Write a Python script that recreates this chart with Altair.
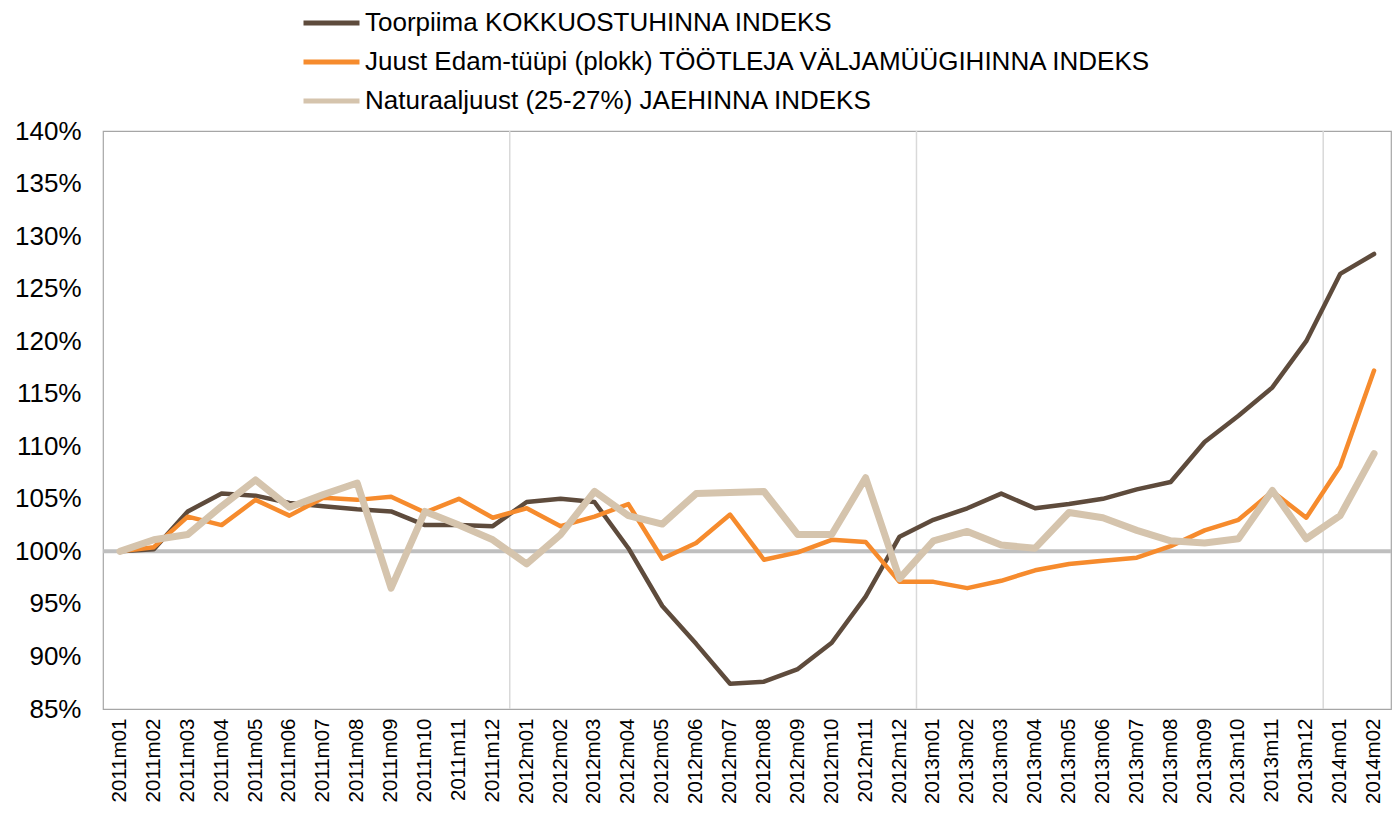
import altair as alt
import pandas as pd

months = [
    "2011m01", "2011m02", "2011m03", "2011m04", "2011m05", "2011m06",
    "2011m07", "2011m08", "2011m09", "2011m10", "2011m11", "2011m12",
    "2012m01", "2012m02", "2012m03", "2012m04", "2012m05", "2012m06",
    "2012m07", "2012m08", "2012m09", "2012m10", "2012m11", "2012m12",
    "2013m01", "2013m02", "2013m03", "2013m04", "2013m05", "2013m06",
    "2013m07", "2013m08", "2013m09", "2013m10", "2013m11", "2013m12",
    "2014m01", "2014m02",
]

toorpiima = [
    100.0, 100.2, 103.8, 105.5, 105.3, 104.6, 104.3, 104.0, 103.8, 102.5, 102.5, 102.4,
    104.7, 105.0, 104.7, 100.3, 94.8, 91.2, 87.4, 87.6, 88.8, 91.3, 95.7, 101.4,
    103.0, 104.1, 105.5, 104.1, 104.5, 105.0, 105.9, 106.6, 110.4, 112.9, 115.6, 120.0,
    126.4, 128.3,
]

juust = [
    100.0, 100.4, 103.3, 102.5, 104.9, 103.4, 105.1, 104.9, 105.2, 103.7, 105.0, 103.2,
    104.1, 102.4, 103.3, 104.5, 99.3, 100.8, 103.5, 99.2, 99.9, 101.1, 100.9, 97.1,
    97.1, 96.5, 97.2, 98.2, 98.8, 99.1, 99.4, 100.5, 102.0, 103.0, 105.7, 103.2,
    108.1, 117.2,
]

naturaal = [
    100.0, 101.1, 101.6, 104.3, 106.8, 104.2, 105.4, 106.5, 96.5, 103.8, 102.5, 101.1,
    98.8, 101.6, 105.7, 103.4, 102.6, 105.5, 105.6, 105.7, 101.6, 101.6, 107.0, 97.4,
    101.0, 101.9, 100.6, 100.3, 103.7, 103.2, 102.0, 101.0, 100.8, 101.2, 105.8, 101.2,
    103.4, 109.3,
]

series_names = [
    "Toorpiima KOKKUOSTUHINNA INDEKS",
    "Juust Edam-tüüpi (plokk) TÖÖTLEJA VÄLJAMÜÜGIHINNA INDEKS",
    "Naturaaljuust (25-27%) JAEHINNA INDEKS",
]
series_colors = ["#5E4B3C", "#F68B2D", "#D5C4AD"]
series_widths = [4.5, 4.5, 7]

year_starts = ["2012m01", "2013m01", "2014m01"]
reference_level = [100]
y_ticks = [85, 90, 95, 100, 105, 110, 115, 120, 125, 130, 135, 140]

FONT = "Liberation Sans"

rows = []
for name, vals in zip(series_names, [toorpiima, juust, naturaal]):
    for m, v in zip(months, vals):
        rows.append({"month": m, "value": v, "series": name})
df = pd.DataFrame(rows)

x_scale = alt.Scale(type="band", domain=months, paddingInner=0, paddingOuter=0)
y_scale = alt.Scale(domain=[85, 140], nice=False, zero=False)
color_scale = alt.Scale(domain=series_names, range=series_colors)

x_axis = alt.Axis(
    title=None, labelAngle=270, labelFontSize=20.5, labelFont=FONT, labelColor="#000000",
    ticks=False, domain=False, grid=False, labelPadding=9, labelLimit=200,
)
y_axis = alt.Axis(
    title=None, values=y_ticks, labelExpr="datum.value + '%'", labelFontSize=26,
    labelFont=FONT, labelColor="#000000", ticks=False, domain=False, grid=False,
    labelPadding=22,
)

legend = alt.Legend(
    title=None, orient="none", legendX=198, legendY=-127.5, direction="vertical",
    symbolType="stroke", symbolSize=3136, symbolStrokeWidth=5,
    labelFontSize=26, labelFont=FONT, labelColor="#000000", labelLimit=2000,
    labelOffset=3, rowPadding=0, padding=0, clipHeight=39,
)

years_df = pd.DataFrame({"month": year_starts})
year_rules = alt.Chart(years_df).mark_rule(color="#D9D9D9", strokeWidth=1.5).encode(
    x=alt.X("month:O", scale=x_scale, axis=x_axis, bandPosition=0, sort=months),
)

ref_df = pd.DataFrame({"level": reference_level})
ref_rule = alt.Chart(ref_df).mark_rule(color="#BFBFBF", strokeWidth=4).encode(
    y=alt.Y("level:Q", scale=y_scale, axis=y_axis),
)

line_layers = []
for name, w in zip(series_names, series_widths):
    layer = alt.Chart(df).transform_filter(
        alt.datum.series == name
    ).mark_line(strokeWidth=w, strokeCap="round", strokeJoin="round").encode(
        x=alt.X("month:O", scale=x_scale, axis=x_axis, bandPosition=0.5, sort=months),
        y=alt.Y("value:Q", scale=y_scale, axis=y_axis),
        color=alt.Color("series:N", scale=color_scale, legend=legend),
    )
    line_layers.append(layer)

chart = alt.layer(year_rules, ref_rule, *line_layers).properties(
    width=1288, height=578,
    autosize=alt.AutoSizeParams(type="none"),
    padding={"left": 95, "top": 123, "right": 1, "bottom": 97},
    background="#FFFFFF",
).configure_view(stroke="#A6A6A6", strokeWidth=1.2)

chart.save("out.html", embed_options={"renderer": "svg", "actions": False})
